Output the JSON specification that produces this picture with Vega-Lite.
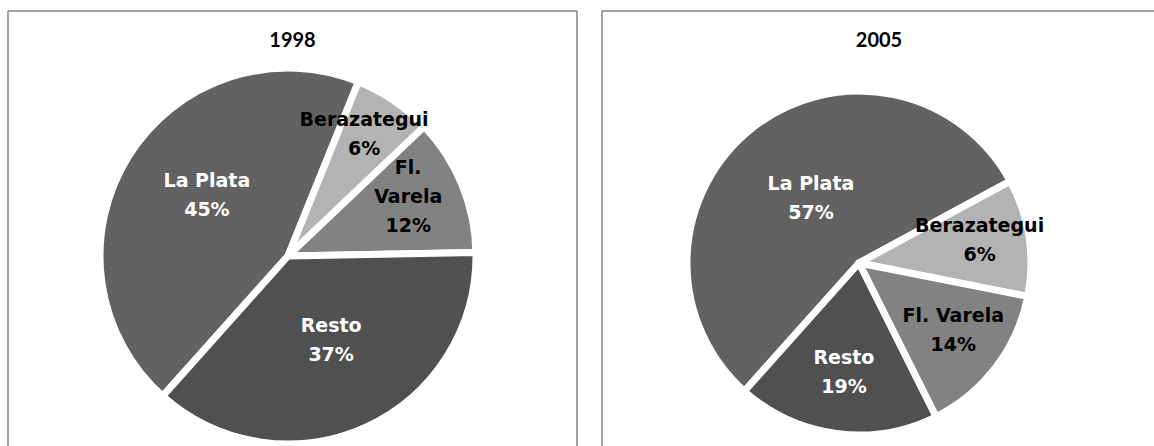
{
  "$schema": "https://vega.github.io/schema/vega-lite/v6.json",
  "padding": {"left": 7, "top": 10, "right": 0, "bottom": 0},
  "background": "white",
  "config": {
    "view": {"stroke": null},
    "title": {"font": "Lato", "fontSize": 20, "fontWeight": "bold", "color": "#000000", "anchor": "middle", "frame": "group", "baseline": "alphabetic", "offset": -41}
  },
  "datasets": {
    "zonas": [
      {"anio": "1998", "zona": "La Plata", "orden": 1, "valor": 44.5, "etiqueta": ["La Plata", "45%"]},
      {"anio": "1998", "zona": "Berazategui", "orden": 2, "valor": 6.8, "etiqueta": ["Berazategui", "6%"]},
      {"anio": "1998", "zona": "Fl. Varela", "orden": 3, "valor": 11.8, "etiqueta": ["Fl.", "Varela", "12%"]},
      {"anio": "1998", "zona": "Resto", "orden": 4, "valor": 36.9, "etiqueta": ["Resto", "37%"]},
      {"anio": "2005", "zona": "La Plata", "orden": 1, "valor": 55.5, "etiqueta": ["La Plata", "57%"]},
      {"anio": "2005", "zona": "Berazategui", "orden": 2, "valor": 11.0, "etiqueta": ["Berazategui", "6%"]},
      {"anio": "2005", "zona": "Fl. Varela", "orden": 3, "valor": 14.5, "etiqueta": ["Fl. Varela", "14%"]},
      {"anio": "2005", "zona": "Resto", "orden": 4, "valor": 19.0, "etiqueta": ["Resto", "19%"]}
    ],
    "marco": [{"borde": 1}]
  },
  "spacing": 23,
  "hconcat": [
    {
      "title": "1998",
      "width": 569,
      "height": 435,
      "layer": [
        {
          "data": {"name": "marco"},
          "mark": {"type": "rule", "stroke": "#808080", "strokeWidth": 1.5},
          "encoding": {"x": {"value": 0}}
        },
        {
          "data": {"name": "marco"},
          "mark": {"type": "rule", "stroke": "#808080", "strokeWidth": 1.5},
          "encoding": {"x": {"value": "width"}}
        },
        {
          "data": {"name": "marco"},
          "mark": {"type": "rule", "stroke": "#808080", "strokeWidth": 1.5},
          "encoding": {"y": {"value": 0}}
        },
        {
          "data": {"name": "zonas"},
          "transform": [{"filter": "datum.anio == '1998'"}],
          "mark": {"type": "arc", "outerRadius": 188, "x": 280, "y": 245, "stroke": "white", "strokeWidth": 7, "strokeJoin": "round"},
          "encoding": {
            "theta": {"field": "valor", "type": "quantitative", "stack": true, "scale": {"range": [-2.412, 3.871]}},
            "order": {"field": "orden", "type": "quantitative"},
            "color": {"field": "zona", "type": "nominal", "legend": null,
              "scale": {"domain": ["La Plata", "Berazategui", "Fl. Varela", "Resto"], "range": ["#626262", "#b3b3b3", "#828282", "#505050"]}}
          }
        },
        {
          "data": {"name": "zonas"},
          "transform": [{"filter": "datum.anio == '1998'"}],
          "mark": {"type": "text", "x": 280, "y": 235, "dy": {"expr": "-(length(datum.etiqueta) - 1) * 14.5"}, "font": "DejaVu Sans", "fontSize": 19, "fontWeight": "bold", "lineHeight": 29, "align": "center", "baseline": "middle"},
          "encoding": {
            "theta": {"field": "valor", "type": "quantitative", "stack": true, "scale": {"range": [-2.412, 3.871]}},
            "order": {"field": "orden", "type": "quantitative"},
            "radius": {"field": "valor", "type": "quantitative", "scale": {"type": "linear", "zero": false, "domain": [6, 45], "range": [136, 95]}},
            "text": {"field": "etiqueta"},
            "color": {"condition": {"test": "datum.zona == 'La Plata' || datum.zona == 'Resto'", "value": "white"}, "value": "black"}
          }
        }
      ]
    },
    {
      "title": "2005",
      "width": 554,
      "height": 435,
      "layer": [
        {
          "data": {"name": "marco"},
          "mark": {"type": "rule", "stroke": "#808080", "strokeWidth": 1.5},
          "encoding": {"x": {"value": 0}}
        },
        {
          "data": {"name": "marco"},
          "mark": {"type": "rule", "stroke": "#808080", "strokeWidth": 1.5},
          "encoding": {"y": {"value": 0}}
        },
        {
          "data": {"name": "zonas"},
          "transform": [{"filter": "datum.anio == '2005'"}],
          "mark": {"type": "arc", "outerRadius": 172, "x": 257, "y": 252, "stroke": "white", "strokeWidth": 7, "strokeJoin": "round"},
          "encoding": {
            "theta": {"field": "valor", "type": "quantitative", "stack": true, "scale": {"range": [-2.412, 3.871]}},
            "order": {"field": "orden", "type": "quantitative"},
            "color": {"field": "zona", "type": "nominal", "legend": null,
              "scale": {"domain": ["La Plata", "Berazategui", "Fl. Varela", "Resto"], "range": ["#626262", "#b3b3b3", "#828282", "#505050"]}}
          }
        },
        {
          "data": {"name": "zonas"},
          "transform": [{"filter": "datum.anio == '2005'"}],
          "mark": {"type": "text", "x": 257, "y": 248, "dy": {"expr": "-(length(datum.etiqueta) - 1) * 14.5"}, "font": "DejaVu Sans", "fontSize": 19, "fontWeight": "bold", "lineHeight": 29, "align": "center", "baseline": "middle"},
          "encoding": {
            "theta": {"field": "valor", "type": "quantitative", "stack": true, "scale": {"range": [-2.412, 3.871]}},
            "order": {"field": "orden", "type": "quantitative"},
            "radius": {"field": "valor", "type": "quantitative", "scale": {"type": "linear", "zero": false, "domain": [11, 56], "range": [122, 77]}},
            "text": {"field": "etiqueta"},
            "color": {"condition": {"test": "datum.zona == 'La Plata' || datum.zona == 'Resto'", "value": "white"}, "value": "black"}
          }
        }
      ]
    }
  ]
}
